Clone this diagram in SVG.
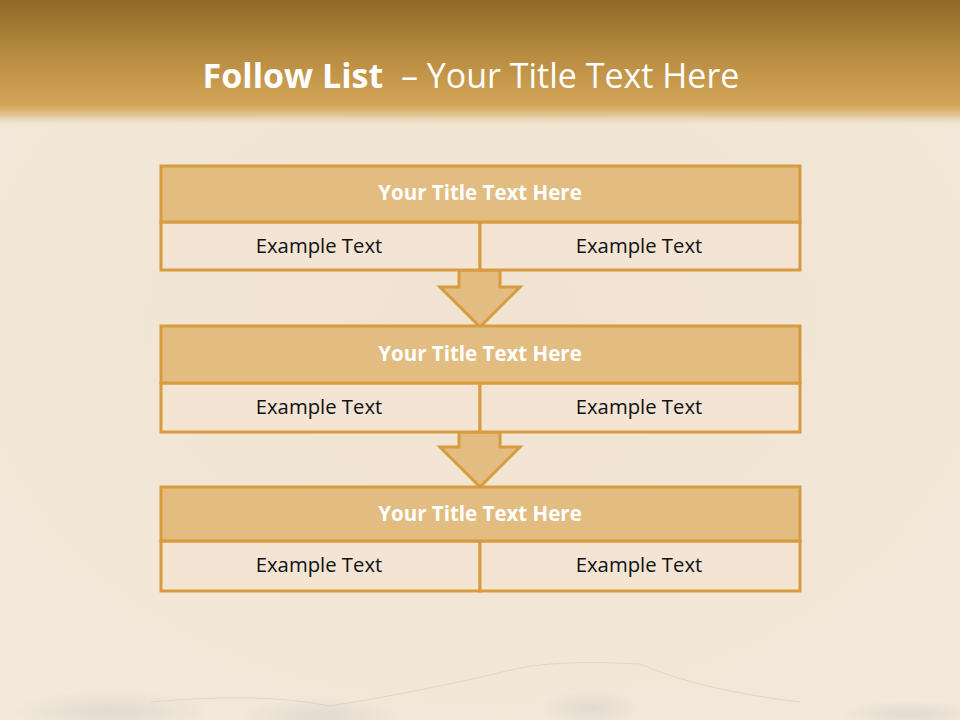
<svg xmlns="http://www.w3.org/2000/svg" width="960" height="720" viewBox="0 0 960 720">
<defs>
<linearGradient id="band" x1="0" y1="0" x2="0" y2="1">
<stop offset="0" stop-color="#926828"/>
<stop offset="0.45" stop-color="#B98D42"/>
<stop offset="0.82" stop-color="#D4A558"/>
<stop offset="0.9" stop-color="#E2C594"/>
<stop offset="1" stop-color="#F2E7D8" stop-opacity="0"/>
</linearGradient>
<radialGradient id="stain" cx="0.5" cy="0.5" r="0.5">
<stop offset="0" stop-color="#D8D4CC" stop-opacity="0.7"/>
<stop offset="1" stop-color="#D8D4CC" stop-opacity="0"/>
</radialGradient>
<radialGradient id="paper" cx="0.5" cy="0.45" r="0.7">
<stop offset="0" stop-color="#F0E3D0"/>
<stop offset="1" stop-color="#F3E8DA"/>
</radialGradient>
<style>
.title{fill:#E2BC80;stroke:#D89B3E;stroke-width:3}
.cell{fill:#F3E4D3;stroke:#D89B3E;stroke-width:3}
.arrow{fill:#E2BC80;stroke:#D89B3E;stroke-width:3;stroke-linejoin:miter}
.tt{font-family:"Open Sans","Liberation Sans",sans-serif;font-weight:bold;font-size:20.5px;fill:#FFFFFF;text-anchor:middle}
.ct{font-family:"Open Sans","Liberation Sans",sans-serif;font-size:20.3px;fill:#111111;text-anchor:middle}
.head{font-family:"Open Sans","Liberation Sans",sans-serif;font-size:34px;fill:#FFFFFF}
</style>
</defs>
<rect width="960" height="720" fill="url(#paper)"/>
<ellipse cx="110" cy="712" rx="100" ry="22" fill="url(#stain)"/>
<ellipse cx="320" cy="716" rx="80" ry="18" fill="url(#stain)"/>
<ellipse cx="590" cy="708" rx="50" ry="18" fill="url(#stain)"/>
<ellipse cx="910" cy="714" rx="70" ry="14" fill="url(#stain)"/>
<path d="M 150 702 Q 260 692 330 706 Q 420 692 520 668 Q 560 660 640 664 Q 700 690 800 702" fill="none" stroke="#DDCDB6" stroke-width="1" opacity="0.7"/>
<rect x="0" y="0" width="960" height="128" fill="url(#band)"/>
<text x="471" y="88" class="head" text-anchor="middle" xml:space="preserve"><tspan font-weight="bold">Follow List</tspan>  – Your Title Text Here</text>

<g id="connectors">
<path class="arrow" d="M 459 270 L 500 270 L 500 287 L 520 287 L 480 327 L 440 287 L 459 287 Z"/>
<path class="arrow" d="M 459 432 L 500 432 L 500 447 L 520 447 L 480 487 L 440 447 L 459 447 Z"/>
</g>

<g id="node1">
<rect class="cell" x="161" y="222" width="319" height="48"/>
<rect class="cell" x="480" y="222" width="320" height="48"/>
<rect class="title" x="161" y="166" width="639" height="56"/>
<text class="tt" x="480" y="200">Your Title Text Here</text>
<text class="ct" x="319" y="253">Example Text</text>
<text class="ct" x="639" y="253">Example Text</text>
</g>
<g id="node2">
<rect class="cell" x="161" y="383" width="319" height="49"/>
<rect class="cell" x="480" y="383" width="320" height="49"/>
<rect class="title" x="161" y="326" width="639" height="57"/>
<text class="tt" x="480" y="361">Your Title Text Here</text>
<text class="ct" x="319" y="414">Example Text</text>
<text class="ct" x="639" y="414">Example Text</text>
</g>
<g id="node3">
<rect class="cell" x="161" y="541" width="319" height="50"/>
<rect class="cell" x="480" y="541" width="320" height="50"/>
<rect class="title" x="161" y="487" width="639" height="54"/>
<text class="tt" x="480" y="521">Your Title Text Here</text>
<text class="ct" x="319" y="572">Example Text</text>
<text class="ct" x="639" y="572">Example Text</text>
</g>
</svg>
